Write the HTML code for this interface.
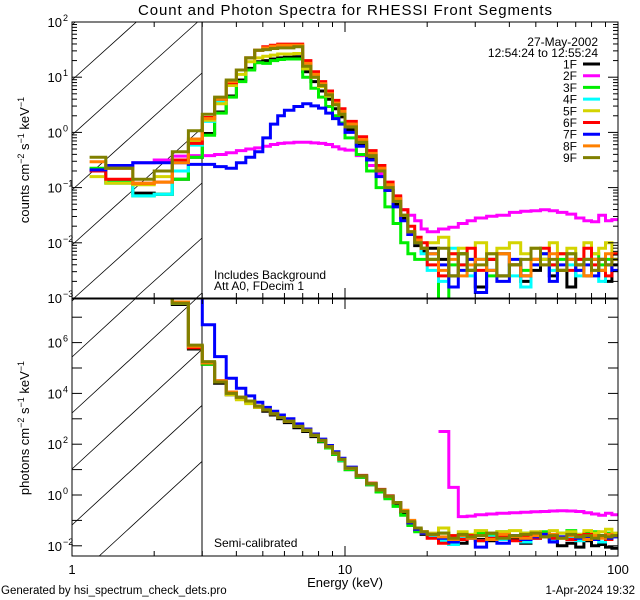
<!DOCTYPE html>
<html><head><meta charset="utf-8"><title>RHESSI spectra</title>
<style>html,body{margin:0;padding:0;background:#fff;width:640px;height:600px;overflow:hidden}svg{display:block}text{font-family:"Liberation Sans",sans-serif;fill:#000}</style>
</head><body>
<svg id="chart" width="640" height="600" viewBox="0 0 640 600" xmlns="http://www.w3.org/2000/svg">
<defs>
<clipPath id="clipTop"><rect x="72" y="22" width="546" height="276"/></clipPath>
<clipPath id="clipBot"><rect x="72" y="299" width="546" height="257"/></clipPath>
</defs>
<rect x="0" y="0" width="640" height="600" fill="#fff"/>
<text x="345" y="15" font-size="15" text-anchor="middle" textLength="414">Count and Photon Spectra for RHESSI Front Segments</text>
<g id="hatches"></g>
<g id="seriesTop" clip-path="url(#clipTop)"></g>
<g id="seriesBot" clip-path="url(#clipBot)"></g>
<g id="axes"></g>
<text x="29" y="160" font-size="13" text-anchor="middle" transform="rotate(-90 29 160)">counts cm<tspan baseline-shift="super" font-size="9">−2</tspan> s<tspan baseline-shift="super" font-size="9">−1</tspan> keV<tspan baseline-shift="super" font-size="9">−1</tspan></text>
<text x="29" y="428" font-size="13" text-anchor="middle" transform="rotate(-90 29 428)">photons cm<tspan baseline-shift="super" font-size="9">−2</tspan> s<tspan baseline-shift="super" font-size="9">−1</tspan> keV<tspan baseline-shift="super" font-size="9">−1</tspan></text>
<text x="598" y="46" font-size="12" text-anchor="end">27-May-2002</text>
<text x="598" y="57" font-size="12" text-anchor="end">12:54:24 to 12:55:24</text>
<text x="214" y="279" font-size="12">Includes Background</text>
<text x="214" y="290" font-size="12">Att A0, FDecim 1</text>
<text x="214" y="547" font-size="12">Semi-calibrated</text>
<text x="345" y="587" font-size="13" text-anchor="middle">Energy (keV)</text>
<text x="1" y="594" font-size="11.5">Generated by hsi_spectrum_check_dets.pro</text>
<text x="635" y="594" font-size="11.5" text-anchor="end">1-Apr-2024 19:32</text>
<g id="legend"></g>
</svg>
<script>
const edges=[1.16,1.33,1.67,2,2.33,2.67,3,3.33,3.67,4,4.33,4.67,5,5.33,5.67,6,6.5,7,7.5,8,8.5,9,9.5,10,11,12,13,14,15,16,17,18,19,20,22,24,26,28,30,33,36,40,44,48,52,56,60,65,70,75,80,85,90,95,100];
const seriesNames=["1F","2F","3F","4F","5F","6F","7F","8F","9F"];
const seriesColors=["#000000","#ff00ff","#00ee00","#00ffff","#d4d400","#ff0000","#0000ff","#ff8000","#808000"];
const xTicksMajor=[1,10,100];
const xTickLabels=["1","10","100"];
const topYDecades=[-3,-2,-1,0,1,2];
const botYDecades=[-2,-1,0,1,2,3,4,5,6,7];
const botYLabelDecades=[-2,0,2,4,6];
// log10 count spectra (top panel)
const cntBlack=[-0.68,-0.9,-1.1,-1.12,-0.85,-0.45,-0.02,0.37,0.66,0.95,1.16,1.28,1.3,1.33,1.35,1.36,1.37,1.1,0.92,0.75,0.6,0.43,0.28,0.05,-0.22,-0.48,-0.75,-1.05,-1.3,-1.55,-1.85,-2.05,-2.15,-2.1,-2.3,-2.6,-2.2,-2.5,-2.8,-2.3,-2.6,-2.4,-2.7,-2.5,-2.3,-2.6,-2.5,-2.8,-2.4,-2.6,-2.3,-2.5,-2.7,-2.4];
const cntMagenta=[-0.7,-0.65,-0.55,-0.5,-0.43,-0.42,-0.42,-0.4,-0.37,-0.33,-0.3,-0.28,-0.25,-0.22,-0.2,-0.19,-0.18,-0.18,-0.19,-0.2,-0.22,-0.26,-0.3,-0.32,-0.42,-0.6,-0.75,-0.95,-1.17,-1.4,-1.5,-1.6,-1.75,-1.8,-1.75,-1.72,-1.65,-1.6,-1.55,-1.52,-1.5,-1.45,-1.43,-1.42,-1.4,-1.42,-1.45,-1.48,-1.55,-1.6,-1.62,-1.5,-1.6,-1.58];
const cntGreen=[-0.65,-0.9,-1.15,-1.12,-0.85,-0.45,-0.05,0.35,0.64,0.92,1.13,1.26,1.25,1.3,1.32,1.33,1.33,1.0,0.8,0.64,0.47,0.3,0.17,-0.1,-0.4,-0.7,-1.0,-1.35,-1.65,-2.0,-2.2,-2.3,-2.3,-2.3,-3.2,-2.4,-2.2,-2.5,-2.3,-2.6,-2.2,-2.4,-2.5,-2.3,-2.2,-2.4,-2.3,-2.2,-2.5,-2.3,-2.2,-2.4,-2.3,-2.2];
const cntCyan=[-0.7,-0.92,-1.15,-1.12,-0.7,-0.23,0.2,0.55,0.9,1.13,1.35,1.49,1.5,1.53,1.55,1.55,1.56,1.25,1.05,0.87,0.7,0.52,0.36,0.12,-0.15,-0.4,-0.68,-0.98,-1.22,-1.5,-1.85,-2.0,-2.2,-2.5,-2.7,-2.1,-2.4,-2.6,-2.3,-2.5,-2.2,-2.6,-2.8,-2.4,-2.3,-2.5,-2.2,-2.4,-2.6,-2.3,-2.5,-2.7,-2.4,-2.3];
const cntYellow=[-0.8,-0.92,-0.95,-0.8,-0.5,-0.15,0.22,0.52,0.85,1.05,1.28,1.35,1.38,1.4,1.42,1.42,1.43,1.15,1.0,0.83,0.66,0.5,0.33,0.1,-0.18,-0.43,-0.7,-1.0,-1.25,-1.5,-1.8,-2.0,-2.1,-2.0,-1.9,-2.2,-2.1,-2.3,-2.0,-2.2,-2.1,-2.0,-2.2,-2.1,-2.3,-2.0,-2.2,-2.1,-2.3,-2.0,-2.2,-2.1,-2.0,-2.2];
const cntRed=[-0.7,-0.85,-0.92,-0.9,-0.5,-0.2,0.27,0.6,0.9,1.13,1.35,1.49,1.55,1.58,1.6,1.6,1.6,1.3,1.1,0.92,0.75,0.58,0.43,0.2,-0.08,-0.33,-0.6,-0.9,-1.15,-1.4,-1.7,-1.9,-2.0,-2.4,-2.6,-2.2,-2.4,-2.1,-2.5,-2.3,-2.2,-2.4,-2.6,-2.3,-2.1,-2.4,-2.2,-2.5,-2.3,-2.1,-2.4,-2.3,-2.6,-2.2];
const cntBlue=[-0.68,-0.6,-0.55,-0.55,-0.55,-0.58,-0.58,-0.62,-0.65,-0.55,-0.45,-0.35,-0.1,0.15,0.3,0.4,0.47,0.52,0.48,0.44,0.35,0.25,0.15,0.0,-0.25,-0.5,-0.8,-1.05,-1.35,-1.6,-1.85,-2.0,-2.1,-2.2,-2.4,-2.8,-2.5,-2.3,-2.9,-2.5,-2.7,-2.3,-2.6,-2.4,-2.2,-2.7,-2.4,-2.3,-2.5,-2.4,-2.6,-2.3,-2.4,-2.5];
const cntOrange=[-0.53,-0.65,-0.92,-0.9,-0.55,-0.12,0.25,0.6,0.92,1.13,1.35,1.49,1.53,1.56,1.58,1.58,1.58,1.25,1.05,0.88,0.7,0.53,0.38,0.15,-0.13,-0.38,-0.65,-0.95,-1.2,-1.5,-1.8,-1.95,-2.1,-2.2,-2.5,-2.3,-2.6,-2.4,-2.3,-2.5,-2.2,-2.4,-2.6,-2.3,-2.4,-2.2,-2.5,-2.3,-2.4,-2.6,-2.3,-2.5,-2.2,-2.3];
const cntOlive=[-0.45,-0.65,-0.85,-0.7,-0.35,0.03,0.33,0.64,0.95,1.13,1.35,1.49,1.5,1.52,1.53,1.53,1.55,1.2,1.0,0.85,0.68,0.5,0.33,0.1,-0.18,-0.42,-0.7,-1.0,-1.25,-1.5,-1.8,-2.0,-2.1,-2.3,-2.1,-2.6,-2.2,-2.5,-2.4,-2.2,-2.6,-2.4,-2.3,-2.1,-2.4,-2.3,-2.5,-2.2,-2.4,-2.3,-2.5,-2.3,-2.4,-2.3];
// log10 photon spectra (bottom panel)
const phBlack=[9,9,9,9,7.5,5.75,5.15,4.4,3.95,3.8,3.65,3.45,3.3,3.15,3.0,2.85,2.65,2.5,2.3,2.1,1.85,1.6,1.35,1.0,0.7,0.4,0.15,-0.1,-0.35,-0.7,-1.15,-1.4,-1.55,-1.6,-1.8,-1.7,-1.9,-1.6,-1.75,-1.8,-1.6,-1.7,-1.9,-1.7,-1.6,-1.8,-2.0,-1.9,-2.05,-1.8,-2.0,-1.95,-2.05,-2.1];
const phMagenta=[null,null,null,null,null,null,null,null,null,null,null,null,null,null,null,null,null,null,null,null,null,null,null,null,null,null,null,null,null,null,null,null,null,null,2.5,0.3,-0.85,-0.83,-0.78,-0.75,-0.72,-0.7,-0.68,-0.66,-0.65,-0.63,-0.62,-0.63,-0.65,-0.7,-0.75,-0.8,-0.72,-0.78];
const phGreen=[9,9,9,9,7.55,5.8,5.15,4.45,4.0,3.85,3.7,3.5,3.35,3.2,3.05,2.9,2.7,2.55,2.35,2.12,1.85,1.6,1.35,1.0,0.7,0.4,0.12,-0.15,-0.45,-0.8,-1.2,-1.45,-1.5,-1.6,-1.5,-1.95,-1.6,-1.7,-1.5,-1.6,-1.45,-1.6,-1.5,-1.55,-1.45,-1.6,-1.5,-1.4,-1.55,-1.5,-1.45,-1.6,-1.5,-1.55];
const phCyan=[9,9,9,9,7.55,5.85,5.2,4.45,4.0,3.85,3.7,3.5,3.35,3.2,3.05,2.9,2.7,2.55,2.35,2.15,1.9,1.65,1.38,1.05,0.75,0.45,0.2,-0.05,-0.3,-0.65,-1.1,-1.35,-1.5,-1.6,-1.8,-1.95,-1.7,-1.6,-1.8,-1.65,-1.75,-1.6,-1.85,-1.7,-1.6,-1.75,-1.65,-1.7,-1.8,-1.65,-1.7,-1.85,-1.7,-1.65];
const phYellow=[9,9,9,9,7.55,5.85,5.2,4.45,3.95,3.75,3.6,3.45,3.35,3.2,3.05,2.9,2.7,2.55,2.35,2.15,1.9,1.65,1.4,1.05,0.75,0.45,0.2,-0.05,-0.3,-0.65,-1.05,-1.3,-1.45,-1.5,-1.3,-1.6,-1.45,-1.55,-1.4,-1.5,-1.45,-1.4,-1.5,-1.45,-1.55,-1.4,-1.5,-1.45,-1.55,-1.4,-1.5,-1.45,-1.35,-1.5];
const phRed=[9,9,9,9,7.6,5.8,5.2,4.5,4.05,3.85,3.7,3.5,3.35,3.2,3.05,2.9,2.72,2.57,2.37,2.17,1.92,1.67,1.42,1.07,0.77,0.47,0.22,-0.03,-0.3,-0.65,-1.1,-1.35,-1.5,-1.7,-1.9,-1.6,-1.75,-1.6,-1.8,-1.7,-1.65,-1.8,-1.6,-1.7,-1.55,-1.7,-1.65,-1.75,-1.6,-1.55,-1.7,-1.65,-1.75,-1.6];
const phBlue=[9,9,9,9,9,9,6.7,5.45,4.6,4.2,3.9,3.65,3.45,3.3,3.15,3.0,2.8,2.6,2.4,2.2,1.95,1.7,1.45,1.1,0.75,0.45,0.2,-0.05,-0.3,-0.65,-1.1,-1.35,-1.5,-1.55,-1.7,-1.85,-1.6,-1.7,-2.05,-1.75,-1.9,-1.6,-1.75,-1.65,-1.55,-1.85,-1.65,-1.6,-1.7,-1.65,-1.75,-1.6,-1.7,-1.65];
const phOrange=[9,9,9,9,7.6,5.85,5.2,4.5,4.05,3.85,3.7,3.5,3.35,3.2,3.05,2.9,2.7,2.55,2.35,2.15,1.9,1.65,1.4,1.05,0.75,0.45,0.2,-0.05,-0.3,-0.6,-1.0,-1.3,-1.45,-1.55,-1.65,-1.75,-1.6,-1.7,-1.6,-1.75,-1.55,-1.65,-1.7,-1.6,-1.65,-1.55,-1.7,-1.6,-1.65,-1.75,-1.6,-1.7,-1.55,-1.6];
const phOlive=[9,9,9,9,7.55,5.9,5.25,4.45,4.0,3.85,3.7,3.5,3.35,3.2,3.05,2.9,2.7,2.55,2.35,2.15,1.9,1.65,1.4,1.05,0.75,0.45,0.2,-0.05,-0.3,-0.65,-1.05,-1.3,-1.45,-1.55,-1.5,-1.7,-1.55,-1.65,-1.6,-1.5,-1.7,-1.6,-1.55,-1.5,-1.65,-1.6,-1.7,-1.55,-1.65,-1.6,-1.7,-1.6,-1.65,-1.6];

const countSeries=[cntBlack,cntMagenta,cntGreen,cntCyan,cntYellow,cntRed,cntBlue,cntOrange,cntOlive];
const photonSeries=[phBlack,phMagenta,phGreen,phCyan,phYellow,phRed,phBlue,phOrange,phOlive];

const NS="http://www.w3.org/2000/svg";
const X0=72,X1=618,DEC=273;
const TOP0=22,TOP1=298,BOT0=299,BOT1=556;
const HX=202;
function xS(e){return X0+DEC*Math.log10(e);}
function yTop(l){return TOP0+(2-l)*55.2;}
function yBot(l){return 495-l*25.4;}
function mk(tag,attrs,parent){const el=document.createElementNS(NS,tag);for(const k in attrs)el.setAttribute(k,attrs[k]);parent.appendChild(el);return el;}

function stepPath(vals,yf,ymin,ymax){
  let d="",pen=false;
  for(let i=0;i<vals.length;i++){
    const v=vals[i];
    if(v===null||v===undefined){pen=false;continue;}
    let y=yf(v);y=Math.max(ymin-3,Math.min(ymax+3,y));
    const xa=xS(edges[i]).toFixed(1),xb=xS(edges[i+1]).toFixed(1);
    d+=(pen?"L":"M")+xa+","+y.toFixed(1)+"L"+xb+","+y.toFixed(1);
    pen=true;
  }
  return d;
}
const gT=document.getElementById("seriesTop"),gB=document.getElementById("seriesBot");
countSeries.forEach((s,i)=>{
  const p=mk("path",{d:stepPath(s,yTop,TOP0,TOP1),fill:"none",stroke:seriesColors[i],"stroke-width":3,"stroke-linejoin":"miter"},gT);
  
  
});
photonSeries.forEach((s,i)=>{
  const p=mk("path",{d:stepPath(s,yBot,BOT0,BOT1),fill:"none",stroke:seriesColors[i],"stroke-width":3,"stroke-linejoin":"miter"},gB);
  
  
});

// hatching: lines y = y0 - slope*(x-X0), clipped manually to panel box
const gH=document.getElementById("hatches");
function hatch(y0,slope,ya,yb){
  let xa=X0,ya0=y0,xb=HX,yb0=y0-slope*(HX-X0);
  if(ya0>yb){xa=X0+(ya0-yb)/slope;ya0=yb;}
  if(yb0<ya){xb=X0+(y0-ya)/slope;yb0=ya;}
  if(xa>=xb)return;
  mk("line",{x1:xa.toFixed(1),y1:ya0.toFixed(1),x2:xb.toFixed(1),y2:yb0.toFixed(1),stroke:"#000","stroke-width":0.8},gH);
}
for(let k=-1;k<8;k++)hatch(80+55*k,0.9,TOP0,TOP1);
for(let k=-1;k<5;k++)hatch(357+56*k,0.92,BOT0,BOT1);
mk("line",{x1:HX,y1:TOP0,x2:HX,y2:BOT1,stroke:"#000","stroke-width":1},gH);

// axes
const gA=document.getElementById("axes");
mk("rect",{x:X0,y:TOP0,width:X1-X0,height:TOP1-TOP0,fill:"none",stroke:"#000","stroke-width":1},gA);
mk("rect",{x:X0,y:BOT0,width:X1-X0,height:BOT1-BOT0,fill:"none",stroke:"#000","stroke-width":1},gA);
for(let d=0;d<2;d++){for(let m=1;m<=9;m++){
  const e=m*Math.pow(10,d);const x=xS(e);const L=(m===1)?10:5;
  [[TOP0,1],[TOP1,-1],[BOT0,1],[BOT1,-1]].forEach(([y,s])=>mk("line",{x1:x,y1:y,x2:x,y2:y+s*L,stroke:"#000","stroke-width":1},gA));
}}
xTicksMajor.forEach((e,i)=>{
  const t=mk("text",{x:xS(e),y:574,"font-size":13,"text-anchor":"middle"},gA);t.textContent=xTickLabels[i];
  
  
});
topYDecades.forEach(dc=>{
  for(let m=1;m<=9;m++){
    const l=dc+Math.log10(m);if(l>2.0001)continue;const y=yTop(l);const L=m===1?10:5;
    mk("line",{x1:X0,y1:y,x2:X0+L,y2:y,stroke:"#000","stroke-width":1},gA);
    mk("line",{x1:X1,y1:y,x2:X1-L,y2:y,stroke:"#000","stroke-width":1},gA);
  }
  const t=mk("text",{x:62,y:yTop(dc)+5,"font-size":13,"text-anchor":"end"},gA);
  t.textContent="10";
  
  
  const s=mk("text",{x:63,y:yTop(dc)-1,"font-size":9},gA);s.textContent=dc<0?"−"+(-dc):String(dc);
});
botYDecades.forEach(dc=>{
  const y=yBot(dc);if(y<BOT0)return;
  mk("line",{x1:X0,y1:y,x2:X0+10,y2:y,stroke:"#000","stroke-width":1},gA);
  mk("line",{x1:X1,y1:y,x2:X1-10,y2:y,stroke:"#000","stroke-width":1},gA);
});
botYLabelDecades.forEach(dc=>{
  const t=mk("text",{x:62,y:yBot(dc)+5,"font-size":13,"text-anchor":"end"},gA);
  t.textContent="10";
  
  
  const s=mk("text",{x:63,y:yBot(dc)-1,"font-size":9},gA);s.textContent=dc<0?"−"+(-dc):String(dc);
});
const gL=document.getElementById("legend");
seriesNames.forEach((n,i)=>{
  const y=64+11.7*i;
  const t=mk("text",{x:577,y:y+4.5,"font-size":12,"text-anchor":"end"},gL);t.textContent=n;
  
  
  const ln=mk("line",{x1:583,y1:y,x2:600,y2:y,stroke:seriesColors[i],"stroke-width":3},gL);
  
  
});
</script>
</body></html>
